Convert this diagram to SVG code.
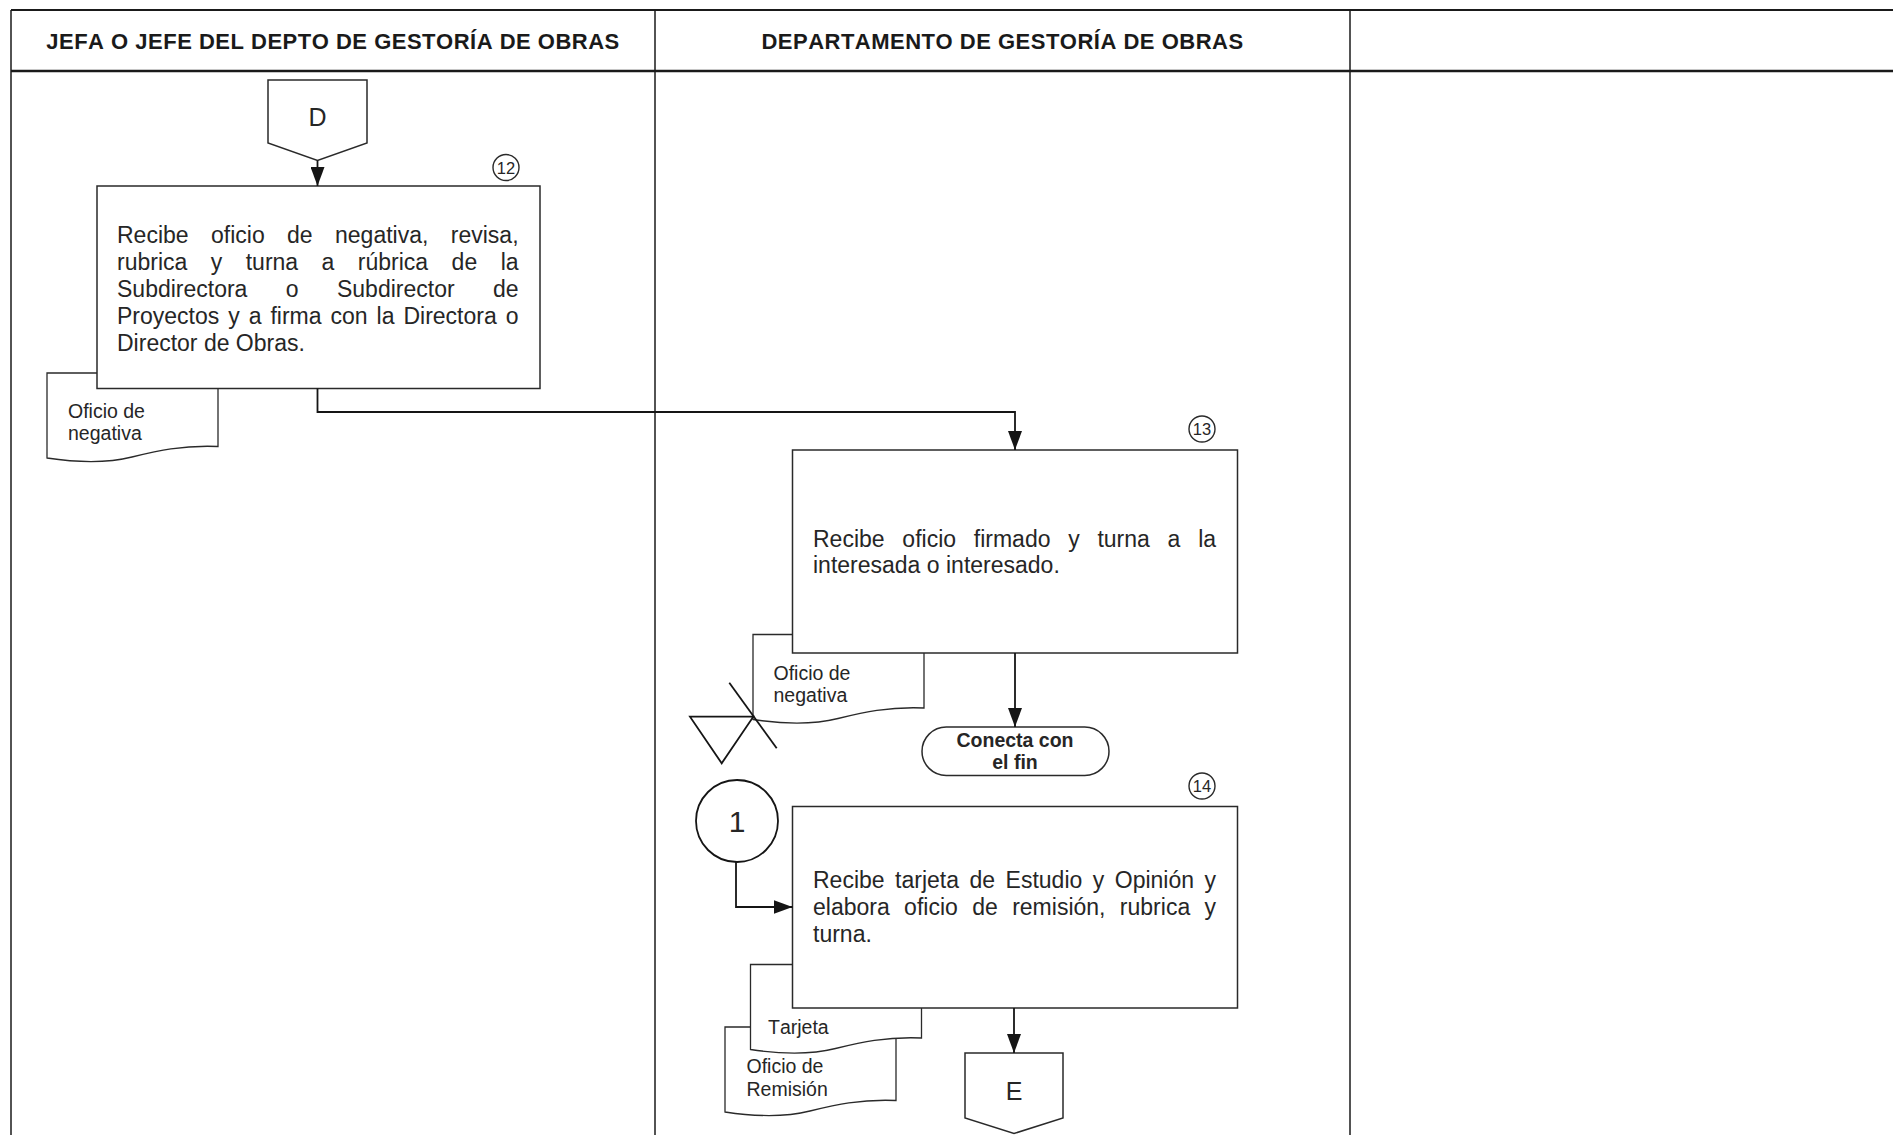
<svg xmlns="http://www.w3.org/2000/svg" xmlns:xlink="http://www.w3.org/1999/xlink" width="1893" height="1135" viewBox="0 0 1893 1135">
  <style>
    text { font-family: "Liberation Sans", Arial, sans-serif; fill: #262626; font-kerning: none; }
    .hdr { font-size: 22px; font-weight: bold; letter-spacing: 0.5px; text-anchor: middle; fill: #1a1a1a; }
    .body { font-size: 23px; }
    .doc-t { font-size: 19.5px; }
    .num { font-size: 16.5px; text-anchor: middle; }
    .conn-t { font-size: 25px; text-anchor: middle; }
    .term-t { font-size: 19.5px; font-weight: bold; text-anchor: middle; }
    .grid { stroke: #1a1a1a; fill: none; }
    .box { fill: #fff; stroke: #2a2a2a; stroke-width: 1.5; }
    .doc { fill: #fff; stroke: #2a2a2a; stroke-width: 1.3; }
    .badge { fill: #fff; stroke: #2a2a2a; stroke-width: 1.4; }
    .edge { fill: none; stroke: #151515; stroke-width: 1.8; }
  </style>
  <defs>
    <marker id="arrow" markerUnits="userSpaceOnUse" markerWidth="19" markerHeight="14" refX="19" refY="7" orient="auto">
      <path d="M0,0 L19,7 L0,14 Z" fill="#151515"/>
    </marker>
    <!-- document symbol with wavy bottom edge -->
    <path id="docShape" d="M0,0 H171 V73.5 C135,72 110,78 85,84 C65,89 40,91 0,85 Z"/>
  </defs>

  <rect width="1893" height="1135" fill="#fff"/>

  <!-- swimlane table -->
  <g id="lanes">
    <line class="grid" x1="11" y1="10" x2="1893" y2="10" stroke-width="2"/>
    <line class="grid" x1="11" y1="71" x2="1893" y2="71" stroke-width="2.5"/>
    <line class="grid" x1="11" y1="10" x2="11" y2="1135" stroke-width="1.5"/>
    <line class="grid" x1="655" y1="10" x2="655" y2="1135" stroke-width="1.5"/>
    <line class="grid" x1="1350" y1="10" x2="1350" y2="1135" stroke-width="1.5"/>
    <text class="hdr" x="333" y="48.5">JEFA O JEFE DEL DEPTO DE GESTORÍA DE OBRAS</text>
    <text class="hdr" x="1002.5" y="48.5">DEPARTAMENTO DE GESTORÍA DE OBRAS</text>
  </g>

  <!-- off-page connector D -->
  <g id="connector-D">
    <polygon class="box" points="268,80 367,80 367,143 317.5,160.5 268,143"/>
    <text class="conn-t" x="317.5" y="125.5">D</text>
  </g>

  <!-- document: Oficio de negativa (lane 1) -->
  <g id="doc-negativa-1">
    <use xlink:href="#docShape" class="doc" transform="translate(47,373)"/>
    <text class="doc-t" x="68" y="418">Oficio de</text>
    <text class="doc-t" x="68" y="440">negativa</text>
  </g>

  <!-- activity 12 -->
  <g id="step-12">
    <rect class="box" x="97" y="186" width="443" height="202.5"/>
    <circle class="badge" cx="506" cy="167.5" r="13"/>
    <text class="num" x="506" y="173.5">12</text>
    <text class="body" x="117" y="243" style="word-spacing:16px">Recibe oficio de negativa, revisa,</text>
    <text class="body" x="117" y="270" style="word-spacing:17.07px">rubrica y turna a rúbrica de la</text>
    <text class="body" x="117" y="297" style="word-spacing:32px">Subdirectora o Subdirector de</text>
    <text class="body" x="117" y="324" style="word-spacing:2.57px">Proyectos y a firma con la Directora o</text>
    <text class="body" x="117" y="351">Director de Obras.</text>
  </g>

  <!-- document: Oficio de negativa (lane 2) -->
  <g id="doc-negativa-2">
    <use xlink:href="#docShape" class="doc" transform="translate(753,634.5)"/>
    <text class="doc-t" x="773.5" y="680">Oficio de</text>
    <text class="doc-t" x="773.5" y="702">negativa</text>
  </g>

  <!-- activity 13 -->
  <g id="step-13">
    <rect class="box" x="792.5" y="450" width="445" height="203"/>
    <circle class="badge" cx="1202" cy="429" r="13"/>
    <text class="num" x="1202" y="435">13</text>
    <text class="body" x="813" y="546.5" style="word-spacing:11.35px">Recibe oficio firmado y turna a la</text>
    <text class="body" x="813" y="573">interesada o interesado.</text>
  </g>

  <!-- archive symbol -->
  <g id="archive">
    <polygon points="690,716.7 753.3,716.7 721.7,763.3" fill="none" stroke="#151515" stroke-width="1.8"/>
    <line x1="729.3" y1="682.7" x2="776.7" y2="748.3" stroke="#151515" stroke-width="1.8"/>
  </g>

  <!-- terminal -->
  <g id="end-terminal">
    <rect class="box" x="922" y="727" width="187" height="48.5" rx="24.25"/>
    <text class="term-t" x="1015" y="747">Conecta con</text>
    <text class="term-t" x="1015" y="769">el fin</text>
  </g>

  <!-- on-page connector 1 -->
  <g id="connector-1">
    <circle cx="737" cy="821" r="41" fill="#fff" stroke="#151515" stroke-width="1.8"/>
    <text x="737" y="832" style="font-size:30px;text-anchor:middle">1</text>
  </g>

  <!-- documents: Oficio de Remisión and Tarjeta -->
  <g id="doc-remision">
    <use xlink:href="#docShape" class="doc" transform="translate(725,1027)"/>
    <text class="doc-t" x="746.5" y="1073">Oficio de</text>
    <text class="doc-t" x="746.5" y="1096">Remisión</text>
  </g>
  <g id="doc-tarjeta">
    <use xlink:href="#docShape" class="doc" transform="translate(750.5,964.5)"/>
    <text class="doc-t" x="768" y="1034">Tarjeta</text>
  </g>

  <!-- activity 14 -->
  <g id="step-14">
    <rect class="box" x="792.5" y="806.5" width="445" height="201.5"/>
    <circle class="badge" cx="1202" cy="786" r="13"/>
    <text class="num" x="1202" y="792">14</text>
    <text class="body" x="813" y="888" style="word-spacing:4.1px">Recibe tarjeta de Estudio y Opinión y</text>
    <text class="body" x="813" y="915" style="word-spacing:8px">elabora oficio de remisión, rubrica y</text>
    <text class="body" x="813" y="942">turna.</text>
  </g>

  <!-- off-page connector E -->
  <g id="connector-E">
    <polygon class="box" points="965,1053 1063,1053 1063,1118 1014,1133.5 965,1118"/>
    <text class="conn-t" x="1014" y="1100">E</text>
  </g>

  <!-- flow lines -->
  <g id="edges">
    <path class="edge" d="M317.5,160.5 V186" marker-end="url(#arrow)"/>
    <path class="edge" d="M317.5,388.5 V412 H1015 V450" marker-end="url(#arrow)"/>
    <path class="edge" d="M1015,653 V727" marker-end="url(#arrow)"/>
    <path class="edge" d="M736,862 V907 H792.5" marker-end="url(#arrow)"/>
    <path class="edge" d="M1014,1008 V1053" marker-end="url(#arrow)"/>
  </g>
</svg>
